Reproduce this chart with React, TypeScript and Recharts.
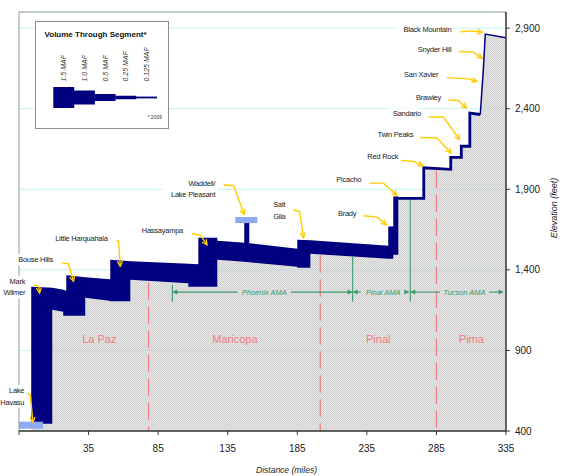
import React from 'react';
import {
  ComposedChart,
  Area,
  Line,
  XAxis,
  YAxis,
  CartesianGrid,
  ReferenceLine,
  ReferenceDot,
  Legend,
} from 'recharts';

const FONT = '"Liberation Sans", Arial, Helvetica, sans-serif';
const NAVY = '#000080';
const GOLD = '#ffcc00';
const GREEN = '#3c9a6c';
const SALMON = '#ef7d7d';
const LAKE = '#8faaf0';
const INK = '#222';

// axis ticks
const xTicks = [-15, 35, 85, 135, 185, 235, 285, 335];
const yTicks = [400, 900, 1400, 1900, 2400, 2900];

// canal band: distance (miles), bottom / top of the drawn band (feet)
const bandMiles = [-6.2, 8.9, 8.9, 16.8, 16.8, 19.0, 19.0, 32.6, 32.6, 49.9, 50.6, 50.6, 65.0, 65.0, 106.7, 106.7, 113.9, 113.9, 127.5, 127.5, 146.9, 146.9, 150.5, 150.5, 185.0, 185.0, 194.4, 194.4, 250.4, 250.4, 254.0, 254.0, 257.6];
const bandBottom = [445, 445, 1152, 1140, 1115, 1115, 1115, 1115, 1227, 1208, 1205, 1205, 1205, 1339, 1317, 1295, 1295, 1295, 1295, 1463, 1450, 1450, 1447, 1447, 1419, 1413, 1413, 1500, 1469, 1469, 1469, 1494, 1494];
const bandTop = [1295, 1289, 1289, 1276, 1276, 1271, 1366, 1354, 1354, 1342, 1342, 1463, 1453, 1453, 1438, 1438, 1435, 1599, 1599, 1581, 1568, 1692, 1692, 1565, 1531, 1587, 1584, 1584, 1550, 1669, 1669, 1855, 1855];

// thin canal after Picacho (centre line)
const pipeMiles = [256.5, 275.9, 275.9, 295.3, 295.3, 302.9, 302.9, 309.0, 309.0, 316.5];
const pipeFeet = [1844, 1844, 2033, 2024, 2098, 2098, 2167, 2167, 2372, 2364];
const summitMiles = [316.5, 318.7, 320.1, 333.8, 335];
const summitFeet = [2364, 2641, 2863, 2842, 2840];

// reservoirs
const havasuMiles = [-15, 2.2];
const havasuFeet = [414, 458];
const pleasantMiles = [140.4, 156.3];
const pleasantFeet = [1690, 1728];

// counties
const countyNames = ['La Paz', 'Maricopa', 'Pinal', 'Pima'];
const countyLabelMiles = [42.7, 140.2, 243.2, 310.1];
const countyLabelFeet = 973;
const countyLineMiles = [78.1, 201.5, 285];
const countyLineTop = [1320, 1490, 2015];

// active management areas
const amaNames = ['Phoenix AMA', 'Pinal AMA', 'Tucson AMA'];
const amaFrom = [95.2, 224.8, 266.2];
const amaTo = [224.8, 265.5, 333.3];
const amaTextAt = [0.51, 0.54, 0.58];
const amaArrowFeet = 1262;
const amaEdgeMiles = [95.2, 224.8, 266.2];
const amaEdgeTop = [1308, 1483, 1839];
const amaEdgeBottom = 1202;

// pumping plant call-outs
const calloutText = [
  ['Black Mountain'], ['Snyder Hill'], ['San Xavier'], ['Brawley'], ['Sandario'],
  ['Twin Peaks'], ['Red Rock'], ['Picacho'], ['Brady'], ['Salt', 'Gila'],
  ['Waddell/', 'Lake Pleasant'], ['Hassayampa'], ['Little Harquahala'], ['Bouse Hills'],
  ['Mark', 'Wilmer'], ['Lake', 'Havasu'],
];
const calloutAt = [
  [295.7, 2894], [295.7, 2770], [286.3, 2610], [288.3, 2470], [273.9, 2368],
  [268.4, 2242], [257.6, 2104], [231.0, 1963], [227.4, 1752], [172.1, 1804],
  [126.1, 1938], [102.9, 1642], [48.7, 1597], [9.4, 1463],
  [-10.5, 1328], [-11.2, 650],
];
const calloutArrow = [
  [[302.2, 2877], [310.8, 2883], [318.0, 2874]],
  [[301.4, 2755], [311.5, 2751], [317.8, 2714]],
  [[292.6, 2593], [307.9, 2585], [314.2, 2569]],
  [[293.5, 2455], [300.7, 2451], [306.5, 2404]],
  [[279.4, 2348], [290.2, 2348], [301.7, 2207]],
  [[273.4, 2221], [285.4, 2218], [295.5, 2125]],
  [[259.5, 2079], [268.6, 2072], [275.4, 2046]],
  [[237.0, 1938], [247.0, 1938], [256.7, 1862]],
  [[232.7, 1736], [242.3, 1727], [249.0, 1680]],
  [[182.3, 1773], [186.7, 1762], [189.5, 1599]],
  [[132.0, 1928], [139.2, 1922], [146.9, 1743]],
  [[109.3, 1624], [115.3, 1617], [120.1, 1555]],
  [[54.9, 1582], [56.6, 1576], [57.8, 1421]],
  [[15.9, 1442], [20.6, 1438], [24.2, 1328]],
  [[-4.5, 1308], [-0.9, 1297], [-0.2, 1256]],
  [[-9.3, 636], [-6.9, 625], [-5.0, 453]],
];

// legend key
const keyVolumes = [1.5, 1.0, 0.5, 0.25, 0.125];
const keyLabels = ['1.5 MAF', '1.0 MAF', '0.5 MAF', '0.25 MAF', '0.125 MAF'];

const bandData = bandMiles.map((x, i) => ({ x, v: [bandBottom[i], bandTop[i]] }));
const pipeData = pipeMiles.map((x, i) => ({ x, y: pipeFeet[i] }));
const summitData = summitMiles.map((x, i) => ({ x, y: summitFeet[i] }));
const lastBand = bandMiles[bandMiles.length - 1];
const groundData = [
  ...bandMiles.map((x, i) => ({ x, v: [400, bandTop[i]] })),
  ...pipeMiles.map((x, i) => ({ x, v: [400, pipeFeet[i]] })).filter((p) => p.x > lastBand),
  ...summitMiles.slice(1).map((x, i) => ({ x, v: [400, summitFeet[i + 1]] })),
];
const havasuData = havasuMiles.map((x) => ({ x, v: havasuFeet }));
const pleasantData = pleasantMiles.map((x) => ({ x, v: pleasantFeet }));

const Callout = ({ cx, cy, lines, anchor }: any) => {
  const w = Math.max(...lines.map((l: string) => l.length)) * 3.9 + 4;
  const x0 = anchor === 'end' ? cx - w + 2 : cx - w / 2;
  return (
    <g>
      <rect x={x0} y={cy - 5.5} width={w} height={lines.length * 11.3} fill="#fff" />
      {lines.map((l: string, i: number) => (
        <text
          key={i}
          x={cx}
          y={cy + i * 11.3}
          dy="0.35em"
          textAnchor={anchor}
          fontSize={7.5}
          letterSpacing={-0.25}
          fill={INK}
          fontFamily={FONT}
        >
          {l}
        </text>
      ))}
    </g>
  );
};

const AmaSpan = ({ x1, y1, x2, text, at }: any) => {
  const cx = x1 + (x2 - x1) * at;
  const half = text.length * 2.15 + 3;
  const head = (x: number, dir: number) => (
    <path d={`M${x},${y1} l${-dir * 5},-2.5 l0,5 z`} fill={GREEN} />
  );
  return (
    <g>
      <line x1={x1 + 1} y1={y1} x2={cx - half} y2={y1} stroke={GREEN} strokeWidth={1.1} />
      <line x1={cx + half} y1={y1} x2={x2 - 1} y2={y1} stroke={GREEN} strokeWidth={1.1} />
      {head(x1, -1)}
      {head(x2, 1)}
      <text x={cx} y={y1} dy="0.35em" textAnchor="middle" fontSize={7.5} fontStyle="italic" fill={GREEN} fontFamily={FONT}>
        {text}
      </text>
    </g>
  );
};

const VolumeKey = () => (
  <svg width={134} height={108} style={{ display: 'block' }}>
    <rect x={0.5} y={0.5} width={133} height={107} fill="#fff" stroke="#8c8c8c" />
    <text x={9.5} y={16} fontWeight="bold" fontSize={8} fill="#111" fontFamily={FONT}>
      Volume Through Segment*
    </text>
    {keyVolumes.map((v, i) => {
      const x = 18.3 + i * 20.7;
      const h = Math.max(1.8, v * 14);
      return (
        <g key={i}>
          <rect x={x} y={76.5 - h / 2} width={20.9} height={h} fill={NAVY} />
          <text
            transform={`translate(${x + 12.8},60.5) rotate(-90)`}
            fontSize={7}
            fontStyle="italic"
            fill="#333"
            fontFamily={FONT}
          >
            {keyLabels[i]}
          </text>
        </g>
      );
    })}
    <text x={127} y={98} textAnchor="end" fontSize={5} fill="#333" fontFamily={FONT}>
      * 2009
    </text>
  </svg>
);

const XTitle = (props: any) => {
  const vb = props.viewBox || { x: 19, y: 431, width: 487, height: 45 };
  return (
    <text x={vb.x + vb.width / 2 + 24} y={vb.y + vb.height - 3.5} textAnchor="middle" fontSize={8.5} fontStyle="italic" fill={INK} fontFamily={FONT}>
      Distance (miles)
    </text>
  );
};

const YTitle = (props: any) => {
  const vb = props.viewBox || { x: 506, y: 12, width: 57, height: 419 };
  const x = vb.x + 51;
  const y = 208;
  return (
    <text x={x} y={y} transform={`rotate(-90, ${x}, ${y})`} textAnchor="middle" fontSize={9} fontStyle="italic" fill={INK} fontFamily={FONT}>
      Elevation (feet)
    </text>
  );
};

export default function App() {
  return (
    <div style={{ position: 'absolute', left: 0, top: 0, width: 563, height: 476, background: '#fff' }}>
      <ComposedChart width={563} height={476} margin={{ top: 12, right: 0, bottom: 0, left: 19 }} style={{ fontFamily: FONT }}>
        <defs>
          <pattern id="rock" width="2" height="2" patternUnits="userSpaceOnUse">
            <rect width="2" height="2" fill="#cfcfcf" fillOpacity={0.55} />
            <rect width="1" height="1" fill="#c4c4c4" fillOpacity={0.6} />
            <rect x="1" y="1" width="1" height="1" fill="#c4c4c4" fillOpacity={0.6} />
          </pattern>
          <marker id="goldHead" viewBox="0 0 8 8" refX="7" refY="4" markerWidth="7" markerHeight="7" markerUnits="userSpaceOnUse" orient="auto">
            <path d="M1,1 L7,4 L1,7" fill="none" stroke={GOLD} strokeWidth={1.5} />
          </marker>
        </defs>
        <CartesianGrid vertical={false} stroke="#c4f4f4" />
        <XAxis
          type="number"
          dataKey="x"
          domain={[-15, 335]}
          ticks={xTicks}
          allowDataOverflow
          height={45}
          tickSize={4}
          tickMargin={10}
          tick={{ fontSize: 10, fill: INK, fontFamily: FONT }}
          axisLine={{ stroke: '#333', strokeWidth: 1.5 }}
          tickLine={{ stroke: '#333' }}
          tickFormatter={(v: number) => (v < 0 ? '' : String(v))}
          label={XTitle}
        />
        <YAxis
          orientation="right"
          type="number"
          domain={[400, 3000]}
          ticks={yTicks}
          allowDataOverflow
          width={57}
          tickSize={4}
          tickMargin={5}
          tick={{ fontSize: 10, fill: INK, fontFamily: FONT }}
          axisLine={{ stroke: '#333', strokeWidth: 1.5 }}
          tickLine={{ stroke: '#333' }}
          tickFormatter={(v: number) => v.toLocaleString('en-US')}
          label={YTitle}
        />
        <ReferenceLine y={3000} stroke="#9a9a9a" />
        <ReferenceLine x={-15} stroke="#9a9a9a" />

        <Area data={groundData} dataKey="v" type="linear" stroke="none" fill="url(#rock)" fillOpacity={1} isAnimationActive={false} dot={false} activeDot={false} />

        {countyLineMiles.map((m, i) => (
          <ReferenceLine
            key={`c${i}`}
            segment={[{ x: m, y: countyLineTop[i] }, { x: m, y: 400 }]}
            stroke={SALMON}
            strokeWidth={1.2}
            strokeDasharray="17 7"
            ifOverflow="visible"
          />
        ))}
        {amaEdgeMiles.map((m, i) => (
          <ReferenceLine
            key={`e${i}`}
            segment={[{ x: m, y: amaEdgeTop[i] }, { x: m, y: amaEdgeBottom }]}
            stroke={GREEN}
            strokeWidth={1.1}
            ifOverflow="visible"
          />
        ))}
        {amaNames.map((n, i) => (
          <ReferenceLine
            key={`a${i}`}
            segment={[{ x: amaFrom[i], y: amaArrowFeet }, { x: amaTo[i], y: amaArrowFeet }]}
            ifOverflow="visible"
            shape={(p: any) => <AmaSpan {...p} text={n} at={amaTextAt[i]} />}
          />
        ))}

        <Area data={bandData} dataKey="v" type="linear" stroke="none" fill={NAVY} fillOpacity={1} isAnimationActive={false} dot={false} activeDot={false} />
        <Area data={havasuData} dataKey="v" type="linear" stroke="none" fill={LAKE} fillOpacity={1} isAnimationActive={false} dot={false} activeDot={false} />
        <Area data={pleasantData} dataKey="v" type="linear" stroke="none" fill={LAKE} fillOpacity={1} isAnimationActive={false} dot={false} activeDot={false} />

        <Line data={pipeData} dataKey="y" type="linear" stroke={NAVY} strokeWidth={2.8} strokeLinejoin="miter" dot={false} activeDot={false} isAnimationActive={false} />
        <Line data={summitData} dataKey="y" type="linear" stroke={NAVY} strokeWidth={1.5} dot={false} activeDot={false} isAnimationActive={false} />

        {calloutArrow.map((pts, i) => (
          <Line
            key={`arrow${i}`}
            data={pts.map(([x, y]) => ({ x, y }))}
            dataKey="y"
            type="linear"
            stroke={GOLD}
            strokeWidth={1.4}
            strokeLinejoin="round"
            markerEnd="url(#goldHead)"
            dot={false}
            activeDot={false}
            isAnimationActive={false}
          />
        ))}

        {calloutText.map((lines, i) => (
          <ReferenceDot
            key={`t${i}`}
            x={calloutAt[i][0]}
            y={calloutAt[i][1]}
            r={1}
            ifOverflow="visible"
            shape={(p: any) => <Callout {...p} lines={lines} anchor={lines[0] === 'Salt' ? 'middle' : 'end'} />}
          />
        ))}
        {countyNames.map((n, i) => (
          <ReferenceDot
            key={`n${i}`}
            x={countyLabelMiles[i]}
            y={countyLabelFeet}
            r={1}
            ifOverflow="visible"
            shape={(p: any) => (
              <text x={p.cx} y={p.cy} dy="0.35em" textAnchor="middle" fontSize={11} fill={SALMON} fontFamily={FONT}>
                {n}
              </text>
            )}
          />
        ))}

        <Legend
          content={() => <VolumeKey />}
          layout="horizontal"
          verticalAlign="middle"
          align="center"
          wrapperStyle={{ left: 35, top: 21, width: 134, height: 108 }}
        />
      </ComposedChart>
    </div>
  );
}
